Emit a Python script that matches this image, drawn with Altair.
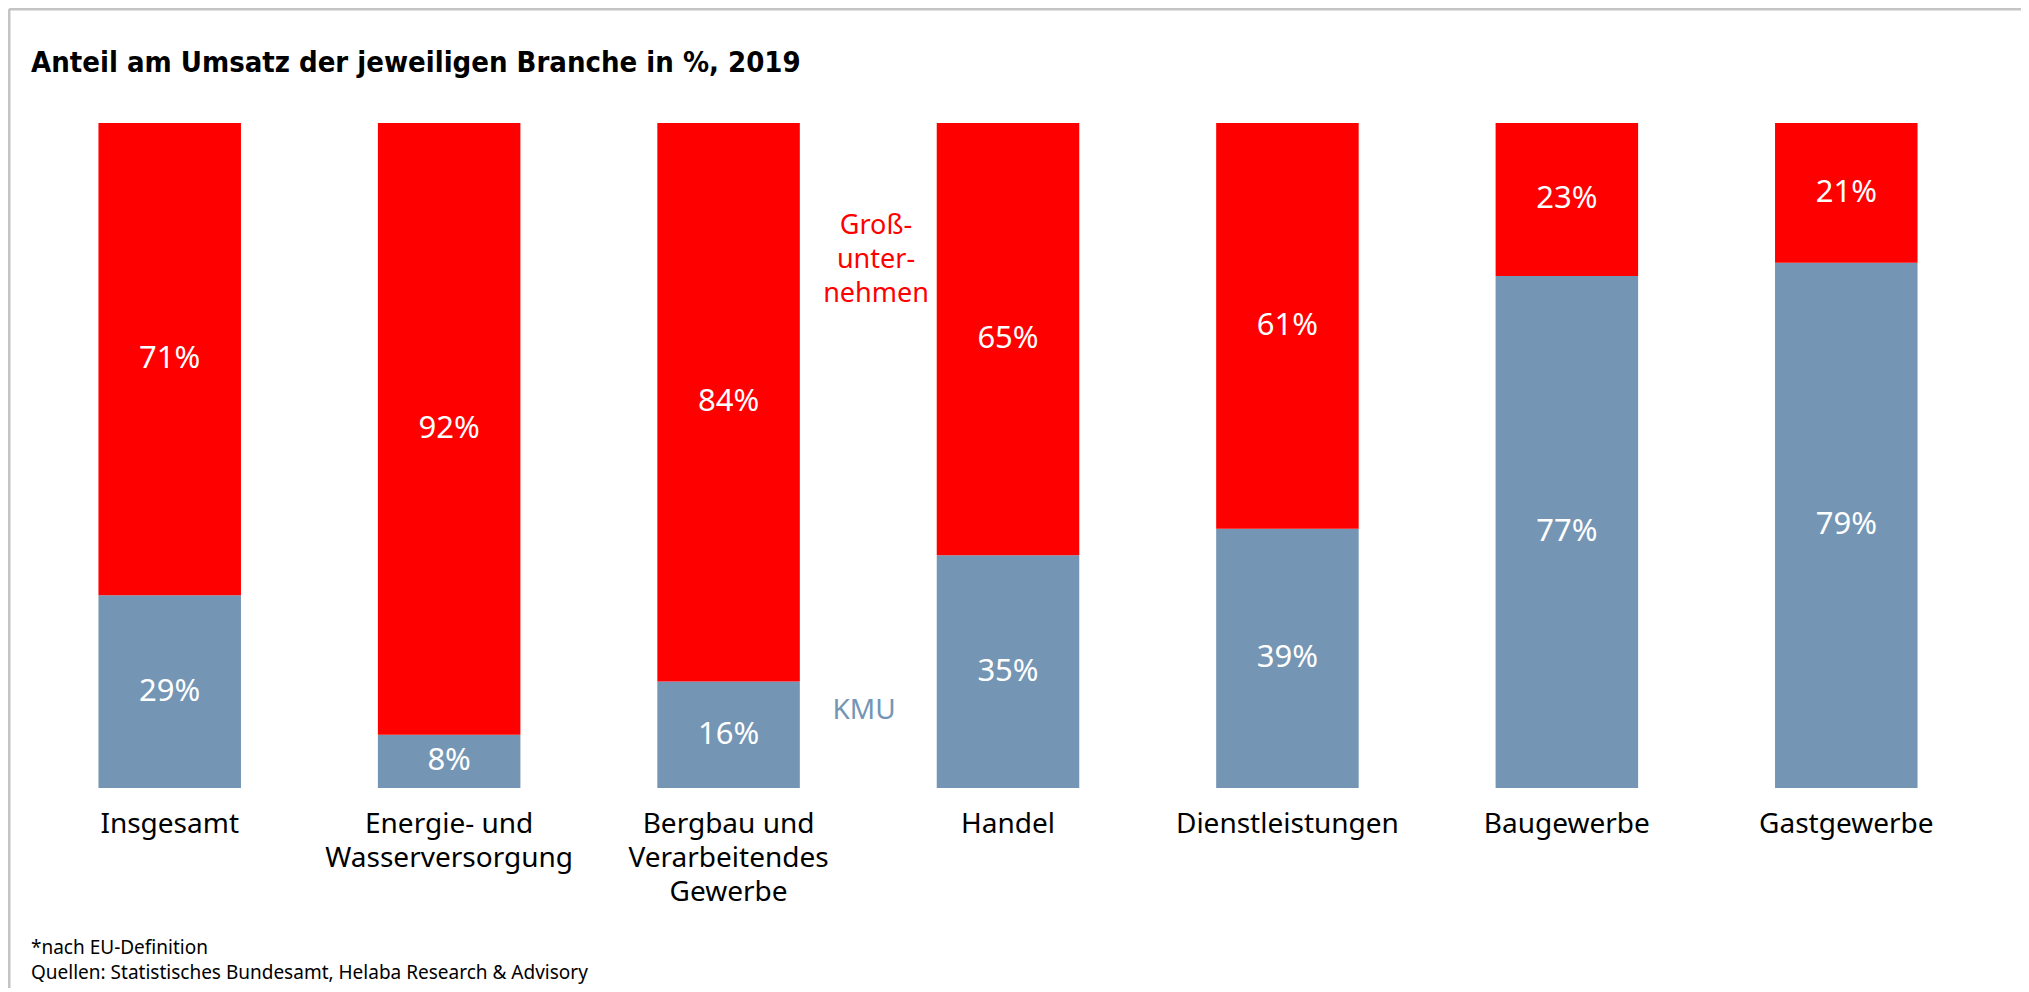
import altair as alt
import pandas as pd

categories = [
    "Insgesamt",
    "Energie- und\nWasserversorgung",
    "Bergbau und\nVerarbeitendes\nGewerbe",
    "Handel",
    "Dienstleistungen",
    "Baugewerbe",
    "Gastgewerbe",
]
kmu = [29, 8, 16, 35, 39, 77, 79]
gross = [71, 92, 84, 65, 61, 23, 21]
series = ["KMU", "Großunternehmen"]
colors = ["#7496b4", "#ff0000"]

title_text = "Anteil am Umsatz der jeweiligen Branche in %, 2019"
footnotes = ["*nach EU-Definition", "Quellen: Statistisches Bundesamt, Helaba Research & Advisory"]

rows = []
for c, k, g in zip(categories, kmu, gross):
    rows.append({"cat": c, "series": series[0], "value": k, "order": 0})
    rows.append({"cat": c, "series": series[1], "value": g, "order": 1})
df = pd.DataFrame(rows)

W, H = 1956, 665
FONT = "Noto Sans"

xenc = alt.X(
    "cat:N",
    sort=categories,
    title=None,
    scale=alt.Scale(paddingInner=0.49, paddingOuter=0.245),
    axis=alt.Axis(
        labelExpr="split(datum.label, '\\n')",
        labelAngle=0,
        labelFont=FONT,
        labelFontSize=28,
        labelColor="#000000",
        labelLineHeight=34,
        labelPadding=22,
        ticks=False,
        domain=False,
        grid=False,
        labelLimit=400,
    ),
)

base = alt.Chart(df).transform_stack(
    stack="value",
    groupby=["cat"],
    as_=["y0", "y1"],
    sort=[alt.SortField("order", "ascending")],
).transform_calculate(
    mid="(datum.y0 + datum.y1) / 2",
    label="datum.value + '%'",
)

yscale = alt.Scale(domain=[0, 100])

bars = base.mark_bar().encode(
    x=xenc,
    y=alt.Y("y0:Q", scale=yscale, axis=None),
    y2="y1:Q",
    color=alt.Color("series:N", scale=alt.Scale(domain=series, range=colors), legend=None),
)

labels = base.mark_text(
    font=FONT, fontSize=31, color="white", baseline="middle", align="center"
).encode(
    x=alt.X("cat:N", sort=categories),
    y=alt.Y("mid:Q", scale=yscale),
    text="label:N",
)

one = pd.DataFrame({"a": [0]})

ann_gross = alt.Chart(one).mark_text(
    font=FONT, fontSize=27, color="#ff0000", align="center", baseline="alphabetic",
    lineHeight=34, text=["Groß-", "unter-", "nehmen"],
).encode(x=alt.value(846), y=alt.value(111))

ann_kmu = alt.Chart(one).mark_text(
    font=FONT, fontSize=28, color="#7496b4", align="center", baseline="alphabetic", text="KMU",
).encode(x=alt.value(834), y=alt.value(596))

title = alt.Chart(one).mark_text(
    font="DejaVu Sans Condensed, Roboto, Noto Sans", fontSize=29, fontWeight="bold", color="#000000",
    align="left", baseline="alphabetic", text=title_text,
).encode(x=alt.value(1), y=alt.value(-51))

foot1 = alt.Chart(one).mark_text(
    font=FONT, fontSize=19, color="#000000", align="left", baseline="alphabetic", text=footnotes[0],
).encode(x=alt.value(1), y=alt.value(831))

foot2 = alt.Chart(one).mark_text(
    font=FONT, fontSize=19, color="#000000", align="left", baseline="alphabetic", text=footnotes[1],
).encode(x=alt.value(1), y=alt.value(856))

border_top = alt.Chart(one).mark_rule(color="#c4c4c4", strokeWidth=3).encode(
    x=alt.value(-21), x2=alt.value(1991), y=alt.value(-114)
)
border_left = alt.Chart(one).mark_rule(color="#c4c4c4", strokeWidth=3).encode(
    x=alt.value(-21), y=alt.value(-114), y2=alt.value(870)
)

chart = alt.layer(
    bars, labels, ann_gross, ann_kmu, title, foot1, foot2, border_top, border_left
).properties(
    width=W,
    height=H,
    autosize=alt.AutoSizeParams(type="none"),
    padding={"left": 22, "top": 115, "right": 35, "bottom": 200},
    background="white",
).configure_view(stroke=None)

chart.save("out.html", embed_options={"renderer": "svg", "actions": False})
